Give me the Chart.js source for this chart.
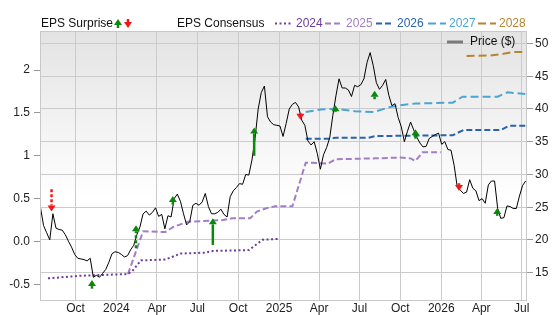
<!DOCTYPE html>
<html>
<head>
<meta charset="utf-8">
<script src="https://cdn.jsdelivr.net/npm/chart.js@4.4.1/dist/chart.umd.min.js"></script>
<style>
  html, body { margin: 0; padding: 0; background: #fff; }
</style>
</head>
<body>
<canvas id="chart" width="556" height="315"></canvas>
<script>
// time range of the x axis
const startDate = '2023-07-13';
const endDate = '2026-07-13';

// weekly closing price ($), first week on priceStart
const priceStart = '2023-07-14';
const priceWeekly = [
  25.0, 22.2, 21.1, 20.0, 24.0, 21.8, 21.6, 21.5, 20.8, 19.8,
  18.9, 17.8, 17.2, 17.1, 17.0, 16.8, 17.2, 14.3, 14.6, 14.3,
  14.9, 15.5, 16.6, 17.9, 18.2, 18.1, 17.8, 17.4, 17.6, 18.5,
  19.2, 20.8, 22.0, 24.0, 24.4, 23.8, 24.2, 24.9, 23.6, 23.9,
  21.7, 23.7, 23.5, 26.3, 27.0, 25.9, 24.0, 22.3, 22.8, 25.3,
  25.6, 25.3, 25.8, 27.1, 25.1, 24.0, 24.0, 24.2, 24.7, 23.9,
  23.5, 26.6, 27.5, 28.0, 28.6, 28.5, 30.0, 29.9, 32.2, 35.5,
  40.0, 42.5, 43.5, 38.8, 38.0, 37.6, 37.5, 37.4, 35.8, 37.8,
  40.0, 40.7, 41.0, 40.3, 38.3, 37.5, 35.1, 34.5, 35.0, 33.2,
  30.8, 33.0, 34.1, 35.6, 39.0, 42.0, 44.6, 43.2, 43.2, 42.9,
  41.9, 43.6, 43.4, 43.7, 44.6, 47.1, 48.6, 46.6, 44.0, 43.0,
  43.6, 44.5, 42.1, 40.5, 40.8, 38.7, 37.3, 35.0, 36.6, 38.0,
  36.8, 35.7, 34.8, 34.2, 34.3, 35.5, 35.8, 36.1, 36.3, 34.6,
  35.0, 33.8, 33.7, 31.4, 28.1, 27.6, 27.1, 27.3, 29.2, 27.9,
  27.5, 26.0, 26.3, 25.6, 28.4, 29.0, 29.0, 24.8, 23.3, 23.4,
  25.2, 25.1, 24.8, 24.8, 26.7, 28.3, 29.0
];

// EPS consensus by fiscal year
const cons2024Dates = ['2023-07-31','2023-10-10','2024-01-25','2024-02-05','2024-02-25','2024-04-20','2024-05-05','2024-05-25','2024-07-20','2024-08-05','2024-10-25','2024-11-25','2024-12-31'];
const cons2024 = [-0.43, -0.40, -0.38, -0.35, -0.22, -0.21, -0.18, -0.14, -0.13, -0.11, -0.10, 0.02, 0.03];

const cons2025Dates = ['2024-01-27','2024-03-01','2024-04-20','2024-05-08','2024-06-09','2024-08-28','2024-09-17','2024-10-28','2024-11-12','2024-12-05','2024-12-23','2025-01-31','2025-03-02','2025-04-22','2025-05-08','2025-08-06','2025-10-01','2025-10-24','2025-11-04','2025-11-20','2025-12-31'];
const cons2025 = [-0.38, 0.12, 0.11, 0.17, 0.23, 0.25, 0.27, 0.27, 0.35, 0.39, 0.41, 0.41, 0.92, 0.91, 0.96, 0.97, 0.98, 0.97, 0.94, 1.04, 1.04];

const cons2026Dates = ['2025-03-02','2025-04-22','2025-05-08','2025-07-21','2025-08-06','2026-01-27','2026-02-20','2026-05-15','2026-06-02','2026-07-09'];
const cons2026 = [1.20, 1.20, 1.21, 1.21, 1.23, 1.24, 1.30, 1.30, 1.35, 1.35];

const cons2027Dates = ['2025-03-02','2025-04-05','2025-05-08','2025-06-21','2025-08-02','2025-09-08','2025-10-01','2025-11-04','2026-01-27','2026-02-18','2026-05-08','2026-05-30','2026-07-09'];
const cons2027 = [1.51, 1.54, 1.55, 1.52, 1.51, 1.57, 1.59, 1.61, 1.62, 1.69, 1.69, 1.74, 1.72];

const cons2028Dates = ['2026-02-27','2026-04-22','2026-05-21','2026-06-11','2026-07-09'];
const cons2028 = [2.165, 2.17, 2.19, 2.21, 2.21];

// EPS surprises: arrow from expected to reported
const surpriseDates = ['2023-08-08','2023-11-07','2024-02-14','2024-05-07','2024-08-05','2024-11-06','2025-02-18','2025-05-08','2025-08-04','2025-11-04','2026-02-10','2026-05-07'];
const surpriseFrom = [0.61, -0.55, -0.08, 0.43, -0.04, 1.00, 1.50, 1.51, 1.66, 1.20, 0.68, 0.30];
const surpriseTo = [0.35, -0.45, 0.19, 0.53, 0.27, 1.33, 1.42, 1.59, 1.76, 1.31, 0.59, 0.39];

// axis ticks
const xTickDates = ['2023-10-01','2024-01-01','2024-04-01','2024-07-01','2024-10-01','2025-01-01','2025-04-01','2025-07-01','2025-10-01','2026-01-01','2026-04-01','2026-07-01'];
const xTickLabels = ['Oct','2024','Apr','Jul','Oct','2025','Apr','Jul','Oct','2026','Apr','Jul'];
const epsTicks = [-0.5, 0, 0.5, 1, 1.5, 2];
const epsTickLabels = ['-0.5', '0.0', '0.5', '1', '1.5', '2'];
const priceTicks = [15, 20, 25, 30, 35, 40, 45, 50];

const FONT = '"Liberation Sans", Arial, sans-serif';
const GREEN = '#0b870b';
const RED = '#f01818';
const yearColors = ['#6a3d9a', '#a07fc6', '#2a62ad', '#4aa4d6', '#b5842f'];
const yearDash = [[2, 2.5], [6, 3], [6, 3], [8, 4], [8, 4]];

const dayOf = s => (Date.parse(s) - Date.parse(startDate)) / 864e5;

function consSeries(dates, vals) {
  return dates.map((d, i) => ({ x: dayOf(d), y: vals[i] }));
}

function drawArrow(ctx, x, y0, y1, color, dashed) {
  const dir = y1 < y0 ? -1 : 1;
  const head = Math.min(6, Math.abs(y1 - y0));
  const baseY = y1 - dir * head;
  ctx.save();
  ctx.strokeStyle = color;
  ctx.fillStyle = color;
  ctx.lineWidth = 2.5;
  if (dashed) ctx.setLineDash([3, 2]);
  ctx.beginPath();
  ctx.moveTo(x, y0);
  ctx.lineTo(x, baseY);
  ctx.stroke();
  ctx.setLineDash([]);
  ctx.beginPath();
  ctx.moveTo(x, y1);
  ctx.lineTo(x - 4, baseY);
  ctx.lineTo(x + 4, baseY);
  ctx.closePath();
  ctx.fill();
  ctx.restore();
}

const decor = {
  id: 'decor',
  beforeDraw(chart) {
    const { ctx, chartArea: a } = chart;
    ctx.save();
    ctx.fillStyle = '#fff';
    ctx.fillRect(0, 0, chart.width, chart.height);
    const g = ctx.createLinearGradient(0, a.top, 0, a.bottom);
    g.addColorStop(0, '#e3e3e3');
    g.addColorStop(0.62, '#ffffff');
    g.addColorStop(1, '#ffffff');
    ctx.fillStyle = g;
    ctx.fillRect(a.left, a.top, a.right - a.left, a.bottom - a.top);
    ctx.restore();
  },
  afterDatasetsDraw(chart) {
    const { ctx, chartArea: a, scales } = chart;
    // surprise arrows
    surpriseDates.forEach((d, i) => {
      const x = scales.x.getPixelForValue(dayOf(d));
      const y0 = scales.eps.getPixelForValue(surpriseFrom[i]);
      const y1 = scales.eps.getPixelForValue(surpriseTo[i]);
      const up = surpriseTo[i] > surpriseFrom[i];
      drawArrow(ctx, x, y0, y1, up ? GREEN : RED, i < 3);
    });
    // plot border
    ctx.save();
    ctx.strokeStyle = '#c8c8c8';
    ctx.lineWidth = 1;
    ctx.strokeRect(a.left + 0.5, a.top + 0.5, a.right - a.left - 1, a.bottom - a.top - 1);
    ctx.restore();
  },
  afterDraw(chart) {
    const ctx = chart.ctx;
    ctx.save();
    ctx.font = '12px ' + FONT;
    ctx.textBaseline = 'middle';
    ctx.fillStyle = '#111';
    const ly = 23.5;
    ctx.fillText('EPS Surprise', 41, ly);
    drawArrow(ctx, 118, ly + 4.5, ly - 4.5, GREEN, false);
    drawArrow(ctx, 128, ly - 4.5, ly + 4.5, RED, false);
    ctx.fillStyle = '#111';
    ctx.fillText('EPS Consensus', 177, ly);

    const years = ['2024', '2025', '2026', '2027', '2028'];
    const lineX = [275, 325, 376, 428, 478];
    years.forEach((yr, i) => {
      ctx.strokeStyle = yearColors[i];
      ctx.lineWidth = 2;
      ctx.setLineDash(yearDash[i]);
      ctx.beginPath();
      ctx.moveTo(lineX[i], ly);
      ctx.lineTo(lineX[i] + 18, ly);
      ctx.stroke();
      ctx.setLineDash([]);
      ctx.fillStyle = yearColors[i];
      ctx.fillText(yr, lineX[i] + 21, ly);
    });

    // price legend inside plot
    ctx.strokeStyle = '#7a7a7a';
    ctx.lineWidth = 3;
    ctx.beginPath();
    ctx.moveTo(447, 42);
    ctx.lineTo(463, 42);
    ctx.stroke();
    ctx.fillStyle = '#111';
    ctx.fillText('Price ($)', 470, 42);
    ctx.restore();
  }
};

Chart.defaults.font.family = FONT;
Chart.defaults.font.size = 12;
Chart.defaults.color = '#222';

const datasets = [
  {
    data: priceWeekly.map((v, i) => ({ x: dayOf(priceStart) + 7 * i, y: v })),
    yAxisID: 'price',
    borderColor: '#000',
    borderWidth: 1,
    pointRadius: 0
  }
];
[[cons2024Dates, cons2024], [cons2025Dates, cons2025], [cons2026Dates, cons2026],
 [cons2027Dates, cons2027], [cons2028Dates, cons2028]].forEach((s, i) => {
  datasets.push({
    data: consSeries(s[0], s[1]),
    yAxisID: 'eps',
    borderColor: yearColors[i],
    borderDash: yearDash[i],
    borderWidth: 2,
    pointRadius: 0
  });
});

new Chart(document.getElementById('chart').getContext('2d'), {
  type: 'line',
  data: { datasets: datasets },
  plugins: [decor],
  options: {
    responsive: false,
    animation: false,
    parsing: true,
    layout: { padding: { top: 31, left: 0, right: 0, bottom: 0 } },
    plugins: { legend: { display: false }, tooltip: { enabled: false } },
    scales: {
      x: {
        type: 'linear',
        min: 0,
        max: dayOf(endDate),
        afterBuildTicks: s => { s.ticks = xTickDates.map(d => ({ value: dayOf(d) })); },
        ticks: { callback: (v, i) => xTickLabels[i], autoSkip: false, maxRotation: 0, padding: 0 },
        grid: { color: '#cbcbcb', drawTicks: false },
        border: { display: false },
        afterFit: s => { s.height = 14; }
      },
      eps: {
        position: 'left',
        min: -0.694,
        max: 2.456,
        afterBuildTicks: s => { s.ticks = epsTicks.map(v => ({ value: v })); },
        ticks: { callback: (v, i) => epsTickLabels[i], padding: 4 },
        grid: { drawOnChartArea: false, tickLength: 6, tickColor: '#999' },
        border: { display: false },
        afterFit: s => { s.width = 40; }
      },
      price: {
        position: 'right',
        min: 10.68,
        max: 51.9,
        afterBuildTicks: s => { s.ticks = priceTicks.map(v => ({ value: v })); },
        ticks: { padding: 2 },
        grid: { color: '#cbcbcb', tickLength: 6, tickColor: '#999' },
        border: { display: false },
        afterFit: s => { s.width = 29; }
      }
    }
  }
});
</script>
</body>
</html>
